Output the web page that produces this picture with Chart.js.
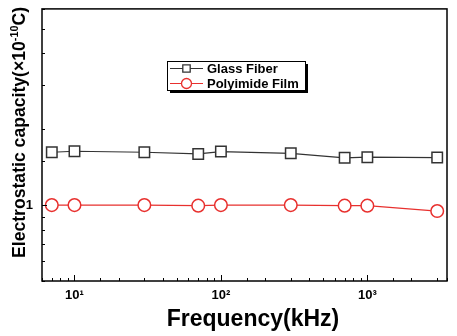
<!DOCTYPE html>
<html>
<head>
<meta charset="utf-8">
<script src="https://cdn.jsdelivr.net/npm/chart.js@4.4.1/dist/chart.umd.min.js"></script>
<style>
  html, body { margin: 0; padding: 0; background: #fff; }
  #wrap { width: 457px; height: 336px; }
</style>
</head>
<body>
<div id="wrap"><canvas id="chart" width="457" height="336"></canvas></div>
<script>
// values (frequency in kHz, capacity in 1e-10 C)
const frequencies = [7, 10, 30, 70, 100, 300, 700, 1000, 3000];
const glassFiber = [1.62, 1.635, 1.62, 1.596, 1.63, 1.605, 1.54, 1.549, 1.544];
const polyimideFilm = [1.0, 1.0, 1.0, 0.995, 1.0, 1.0, 0.995, 0.995, 0.947];
const seriesNames = ['Glass Fiber', 'Polyimide Film'];
const xTickLabels = { 10: '10¹', 100: '10²', 1000: '10³' };
const yTickLabels = { 1: '1' };

const FONT = '"Liberation Sans", Arial, sans-serif';
const GREY = '#333333';
const RED = '#e8302e';

function isPow10(v) {
    const e = Math.log10(v);
    return Math.abs(e - Math.round(e)) < 1e-9;
}

// frame, inward ticks, axis titles and the boxed legend
const decorPlugin = {
    id: 'decor',
    afterDraw(chart) {
        const ctx = chart.ctx;
        const a = chart.chartArea;
        const xs = chart.scales.x;
        const ys = chart.scales.y;
        ctx.save();

        // inward ticks
        ctx.strokeStyle = '#000';
        ctx.lineWidth = 1;
        xs.ticks.forEach(t => {
            const px = Math.round(xs.getPixelForValue(t.value)) + 0.5;
            const len = isPow10(t.value) ? 6 : 3;
            ctx.beginPath();
            ctx.moveTo(px, a.bottom);
            ctx.lineTo(px, a.bottom - len);
            ctx.stroke();
        });
        ys.ticks.forEach(t => {
            const py = Math.round(ys.getPixelForValue(t.value)) + 0.5;
            const len = isPow10(t.value) ? 5 : 3;
            ctx.beginPath();
            ctx.moveTo(a.left, py);
            ctx.lineTo(a.left + len, py);
            ctx.stroke();
        });

        // frame
        ctx.lineWidth = 1.5;
        ctx.strokeRect(a.left, a.top, a.right - a.left, a.bottom - a.top);

        // x title
        ctx.fillStyle = '#000';
        ctx.font = 'bold 23px ' + FONT;
        ctx.textAlign = 'center';
        ctx.textBaseline = 'alphabetic';
        ctx.fillText('Frequency(kHz)', 253, 326);

        // y title with superscript, fitted to its length in the picture
        const parts = [
            { t: 'Electrostatic capacity(\u00d710', f: 'bold 18px ' + FONT, dy: 0 },
            { t: '-10', f: 'bold 11px ' + FONT, dy: -7 },
            { t: 'C)', f: 'bold 18px ' + FONT, dy: 0 }
        ];
        let total = 0;
        parts.forEach(p => { ctx.font = p.f; p.w = ctx.measureText(p.t).width; total += p.w; });
        const span = 251;
        ctx.translate(25, 258);
        ctx.rotate(-Math.PI / 2);
        ctx.scale(span / total, 1);
        ctx.textAlign = 'left';
        let cx = 0;
        parts.forEach(p => {
            ctx.font = p.f;
            ctx.fillText(p.t, cx, p.dy);
            cx += p.w;
        });
        ctx.setTransform(1, 0, 0, 1, 0, 0);

        // legend box with shadow
        const lx = 167, ly = 61, lw = 138, lh = 29;
        ctx.fillStyle = '#000';
        ctx.fillRect(lx + 3, ly + 3, lw, lh);
        ctx.fillStyle = '#fff';
        ctx.fillRect(lx, ly, lw, lh);
        ctx.strokeStyle = '#000';
        ctx.lineWidth = 1;
        ctx.strokeRect(lx + 0.5, ly + 0.5, lw, lh);

        chart.data.datasets.forEach((ds, i) => {
            const rowY = 68.5 + i * 15;
            ctx.strokeStyle = ds.borderColor;
            ctx.lineWidth = 1.2;
            ctx.beginPath();
            ctx.moveTo(170, rowY);
            ctx.lineTo(203, rowY);
            ctx.stroke();
            ctx.fillStyle = '#fff';
            ctx.strokeStyle = ds.pointBorderColor;
            ctx.lineWidth = 1.3;
            ctx.beginPath();
            if (ds.pointStyle === 'rect') {
                ctx.rect(182.8, rowY - 3.7, 7.4, 7.4);
            } else {
                ctx.arc(186.5, rowY, 5, 0, Math.PI * 2);
            }
            ctx.fill();
            ctx.stroke();
            ctx.fillStyle = '#000';
            ctx.font = 'bold 13px ' + FONT;
            ctx.textAlign = 'left';
            ctx.textBaseline = 'middle';
            ctx.fillText(ds.label, 207, rowY + 0.5);
        });

        ctx.restore();
    }
};

const ctx = document.getElementById('chart').getContext('2d');
new Chart(ctx, {
    type: 'line',
    data: {
        datasets: [{
            label: seriesNames[0],
            data: frequencies.map((f, i) => ({ x: f, y: glassFiber[i] })),
            borderColor: GREY,
            borderWidth: 1.2,
            pointStyle: 'rect',
            pointRadius: 7.4,
            pointBorderWidth: 1.5,
            pointBackgroundColor: '#fff',
            pointBorderColor: GREY,
            tension: 0
        }, {
            label: seriesNames[1],
            data: frequencies.map((f, i) => ({ x: f, y: polyimideFilm[i] })),
            borderColor: RED,
            borderWidth: 1.2,
            pointStyle: 'circle',
            pointRadius: 6.3,
            pointBorderWidth: 1.5,
            pointBackgroundColor: '#fff',
            pointBorderColor: RED,
            tension: 0
        }]
    },
    options: {
        responsive: false,
        animation: false,
        layout: { padding: { top: 6, right: 10, left: 0, bottom: 0 } },
        plugins: {
            legend: { display: false },
            tooltip: { enabled: false }
        },
        scales: {
            x: {
                type: 'logarithmic',
                min: 6,
                max: 3500,
                afterFit(s) { s.height = 55; s.paddingLeft = 0; s.paddingRight = 0; },
                grid: { display: false, drawTicks: false },
                border: { display: false },
                ticks: {
                    autoSkip: false,
                    maxRotation: 0,
                    padding: 7,
                    color: '#000',
                    font: { family: FONT, weight: 'bold', size: 13 },
                    callback: v => isPow10(v) ? (xTickLabels[Math.round(v)] || '') : ''
                }
            },
            y: {
                type: 'logarithmic',
                min: 0.5,
                max: 6,
                afterFit(s) { s.width = 42; s.paddingTop = 0; s.paddingBottom = 0; },
                grid: { display: false, drawTicks: false },
                border: { display: false },
                ticks: {
                    autoSkip: false,
                    padding: 9,
                    color: '#000',
                    font: { family: FONT, weight: 'bold', size: 13 },
                    callback: v => Math.abs(v - 1) < 1e-9 ? yTickLabels[1] : ''
                }
            }
        }
    },
    plugins: [decorPlugin]
});
</script>
</body>
</html>
